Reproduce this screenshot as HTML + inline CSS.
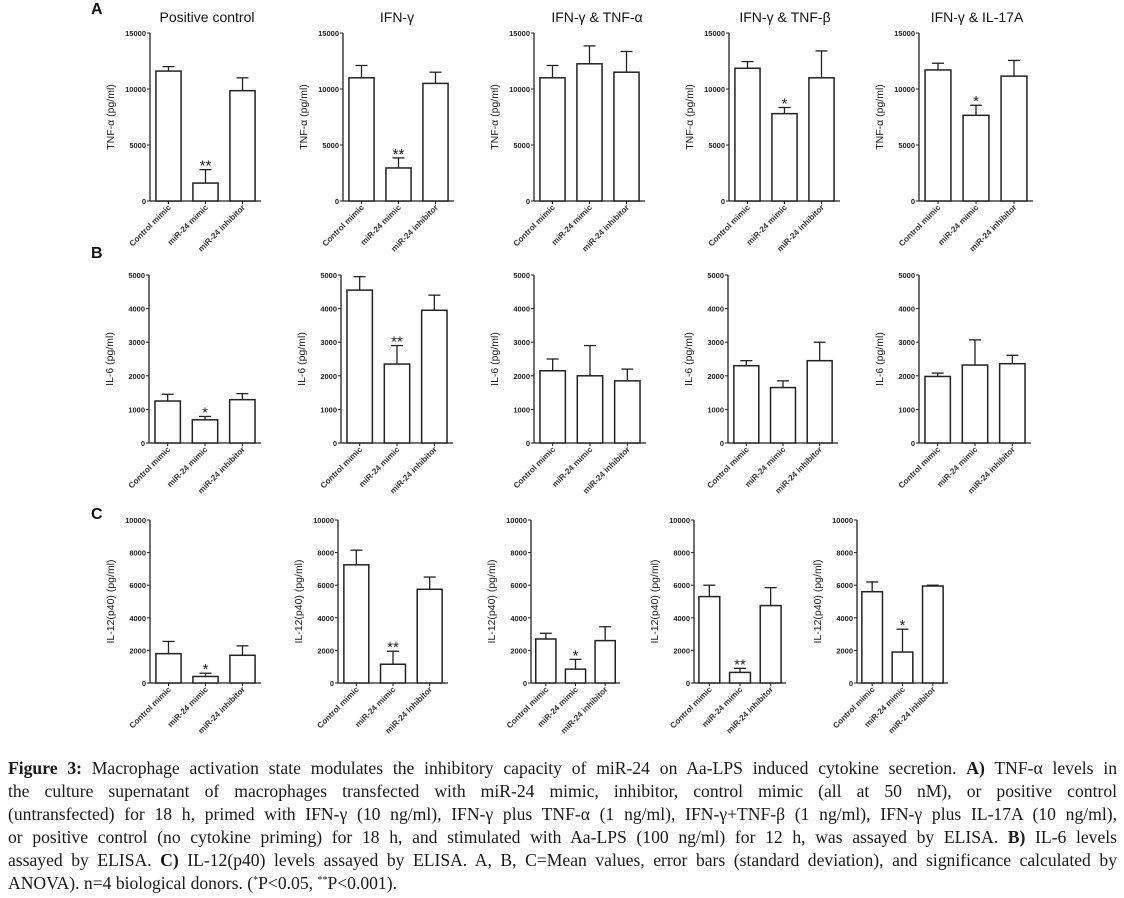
<!DOCTYPE html>
<html><head><meta charset="utf-8">
<style>
html,body{margin:0;padding:0;background:#fff;}
body{width:1124px;height:898px;position:relative;overflow:hidden;font-family:"Liberation Sans",sans-serif;}
#fig{position:absolute;left:0;top:0;}
#caption{position:absolute;left:8px;top:757px;width:1109px;font-family:"Liberation Serif",serif;font-size:17.6px;line-height:23px;color:#1a1a1a;}
#caption .ln{text-align:justify;text-align-last:justify;white-space:nowrap;overflow:visible;height:23px;}
#caption .last{text-align-last:left;}
#caption b{font-weight:bold;}
#caption sup{font-size:10px;line-height:0;vertical-align:6px;}
</style></head>
<body>
<svg id="fig" width="1124" height="750" xmlns="http://www.w3.org/2000/svg"></svg>
<div id="caption">
<div class="ln"><b>Figure 3:</b> Macrophage activation state modulates the inhibitory capacity of miR-24 on Aa-LPS induced cytokine secretion. <b>A)</b> TNF-α levels in</div>
<div class="ln">the culture supernatant of macrophages transfected with miR-24 mimic, inhibitor, control mimic (all at 50 nM), or positive control</div>
<div class="ln">(untransfected) for 18 h, primed with IFN-γ (10 ng/ml), IFN-γ plus TNF-α (1 ng/ml), IFN-γ+TNF-β (1 ng/ml), IFN-γ plus IL-17A (10 ng/ml),</div>
<div class="ln">or positive control (no cytokine priming) for 18 h, and stimulated with Aa-LPS (100 ng/ml) for 12 h, was assayed by ELISA. <b>B)</b> IL-6 levels</div>
<div class="ln">assayed by ELISA. <b>C)</b> IL-12(p40) levels assayed by ELISA. A, B, C=Mean values, error bars (standard deviation), and significance calculated by</div>
<div class="ln last">ANOVA). n=4 biological donors. (<sup>*</sup>P&lt;0.05, <sup>**</sup>P&lt;0.001).</div>
</div>
<script>
// ---- data ----
const categories = ["Control mimic", "miR-24 mimic", "miR-24 inhibitor"];
const columnTitles = ["Positive control", "IFN-γ", "IFN-γ & TNF-α", "IFN-γ & TNF-β", "IFN-γ & IL-17A"];
const rowLetters = ["A", "B", "C"];
const rowYLabels = ["TNF-α (pg/ml)", "IL-6 (pg/ml)", "IL-12(p40) (pg/ml)"];
const rowMax = [15000, 5000, 10000];
const rowTicks = [[0,5000,10000,15000],[0,1000,2000,3000,4000,5000],[0,2000,4000,6000,8000,10000]];
const tnfMeans = [[11600,1600,9850],[11000,2950,10500],[11000,12250,11500],[11850,7800,11000],[11700,7650,11150]];
const tnfSD    = [[400,1200,1150],[1100,900,1000],[1100,1600,1850],[600,550,2400],[600,900,1400]];
const il6Means = [[1250,690,1290],[4550,2350,3950],[2150,2000,1850],[2300,1650,2450],[1980,2320,2360]];
const il6SD    = [[200,100,180],[400,550,450],[350,900,350],[150,200,550],[100,750,250]];
const il12Means= [[1800,400,1700],[7250,1150,5750],[2700,850,2600],[5300,650,4750],[5600,1900,5950]];
const il12SD   = [[750,200,580],[900,800,750],[350,600,850],[700,250,1100],[600,1400,50]];
const tnfSig  = [["","**",""],["","**",""],["","",""],["","*",""],["","*",""]];
const il6Sig  = [["","*",""],["","**",""],["","",""],["","",""],["","",""]];
const il12Sig = [["","*",""],["","**",""],["","*",""],["","**",""],["","*",""]];
const allMeans=[tnfMeans,il6Means,il12Means], allSD=[tnfSD,il6SD,il12SD], allSig=[tnfSig,il6Sig,il12Sig];

// ---- layout ----
const rowGeom=[{top:33,zero:201},{top:275,zero:443},{top:520,zero:683}];
const axX=[[150,343,534,729,919],[149,341,534,728,919],[150,338,531,694,857]];
const axW=[[111,111,111,111,114],[112,112,112,110,112],[111,110,89,92,91]];
const titleX=[207,397,597,785,977];

const NS="http://www.w3.org/2000/svg";
const svg=document.getElementById('fig');
function el(tag,attrs,parent){const e=document.createElementNS(NS,tag);for(const k in attrs)e.setAttribute(k,attrs[k]);(parent||svg).appendChild(e);return e;}
const ink="#222";

for(let c=0;c<5;c++){
  const t=el('text',{x:titleX[c],y:22,'text-anchor':'middle','font-size':14,fill:'#111'});
  
  
  t.textContent=columnTitles[c];
}
const letterY=[14,258,519];
for(let r=0;r<3;r++){
  const t=el('text',{x:91,y:letterY[r],'font-size':16,'font-weight':'bold',fill:'#111'});
  
  
  t.textContent=rowLetters[r];
}

for(let r=0;r<3;r++){
  const g0=rowGeom[r];
  for(let c=0;c<5;c++){
    const x0=axX[r][c], w=axW[r][c];
    const g=el('g',{});
    
    
    const yS=v=>g0.zero-(v/rowMax[r])*(g0.zero-g0.top);
    const slot=w/3;
    const xC=i=>x0+slot*(i+0.5);
    const bw=slot*0.68;
    el('line',{x1:x0,y1:g0.top,x2:x0,y2:g0.zero,stroke:ink,'stroke-width':1.3},g);
    el('line',{x1:x0,y1:g0.zero,x2:x0+w,y2:g0.zero,stroke:ink,'stroke-width':1.3},g);
    rowTicks[r].forEach(v=>{
      const y=yS(v);
      el('line',{x1:x0-3,y1:y,x2:x0,y2:y,stroke:ink,'stroke-width':1},g);
      const t=el('text',{x:x0-4,y:y+3,'text-anchor':'end','font-size':7.5,'font-weight':'bold',fill:'#222'},g);
      
      
      t.textContent=v;
    });
    const yl=el('text',{x:0,y:0,'text-anchor':'middle','font-size':10.5,fill:'#222',transform:`translate(${x0-36},${(g0.top+g0.zero)/2}) rotate(-90)`},g);
    
    
    yl.textContent=rowYLabels[r];
    for(let i=0;i<3;i++){
      const m=allMeans[r][c][i], sd=allSD[r][c][i];
      const yt=yS(m), ye=yS(m+sd);
      const xc=xC(i);
      el('line',{x1:xc,y1:yt,x2:xc,y2:ye,stroke:ink,'stroke-width':1.3},g);
      el('line',{x1:xc-6,y1:ye,x2:xc+6,y2:ye,stroke:ink,'stroke-width':1.3},g);
      const b=el('rect',{x:xc-bw/2,y:yt,width:bw,height:g0.zero-yt,fill:'#fff',stroke:ink,'stroke-width':1.5},g);
      
      
      el('line',{x1:xc,y1:g0.zero,x2:xc,y2:g0.zero+3,stroke:ink,'stroke-width':1},g);
      const s=allSig[r][c][i];
      if(s){
        const st=el('text',{x:xc,y:ye+1,'text-anchor':'middle','font-size':15,fill:'#222'},g);
        
        
        st.textContent=s;
      }
      const cl=el('text',{x:0,y:0,'text-anchor':'end','font-size':8.2,'font-weight':'bold',fill:'#333',transform:`translate(${xc+3},${g0.zero+7}) rotate(-45)`},g);
      
      
      cl.textContent=categories[i];
    }
  }
}
</script>
</body></html>
